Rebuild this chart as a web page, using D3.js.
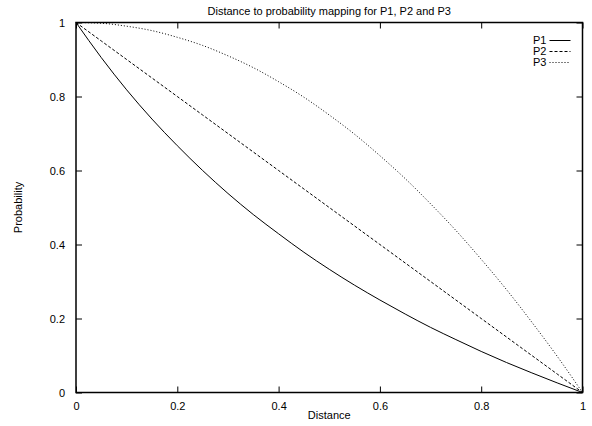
<!DOCTYPE html>
<html>
<head>
<meta charset="utf-8">
<script src="https://cdn.jsdelivr.net/npm/d3@7"></script>
<style>
  body { margin: 0; background: #fff; }
  text { font-family: "Liberation Sans", Arial, sans-serif; font-size: 11px; fill: #000; }
</style>
</head>
<body>
<div id="chart"></div>
<script>
// distances sampled along the x axis
var distance = [0, 0.05, 0.1, 0.15, 0.2, 0.25, 0.3, 0.35, 0.4, 0.45, 0.5,
  0.55, 0.6, 0.65, 0.7, 0.75, 0.8, 0.85, 0.9, 0.95, 1];
// probabilities
var p1 = [1, 0.905, 0.818, 0.739, 0.667, 0.6, 0.538, 0.481, 0.429, 0.379, 0.333,
  0.29, 0.25, 0.212, 0.176, 0.143, 0.111, 0.081, 0.053, 0.026, 0];
var p2 = [1, 0.95, 0.9, 0.85, 0.8, 0.75, 0.7, 0.65, 0.6, 0.55, 0.5,
  0.45, 0.4, 0.35, 0.3, 0.25, 0.2, 0.15, 0.1, 0.05, 0];
var p3 = [1, 0.998, 0.99, 0.978, 0.96, 0.938, 0.91, 0.878, 0.84, 0.798, 0.75,
  0.698, 0.64, 0.578, 0.51, 0.438, 0.36, 0.278, 0.19, 0.098, 0];
var seriesNames = ['P1', 'P2', 'P3'];
var xTicks = [0, 0.2, 0.4, 0.6, 0.8, 1];
var yTicks = [0, 0.2, 0.4, 0.6, 0.8, 1];

var width = 592, height = 426;
var margin = { top: 22.5, right: 9.5, bottom: 33.5, left: 76 };
var w = width - margin.left - margin.right;
var h = height - margin.top - margin.bottom;

var svg = d3.select('#chart').append('svg')
  .attr('width', width)
  .attr('height', height);
var g = svg.append('g')
  .attr('transform', 'translate(' + margin.left + ',' + margin.top + ')');

var xScale = d3.scaleLinear().domain([0, 1]).range([0, w]);
var yScale = d3.scaleLinear().domain([0, 1]).range([h, 0]);

// ticks on all four sides, pointing inward (gnuplot style)
function styleAxis(sel) {
  sel.select('.domain').remove();
  sel.selectAll('line').attr('stroke', '#000');
}
g.append('g')
  .attr('transform', 'translate(0,' + h + ')')
  .call(d3.axisBottom(xScale).tickValues(xTicks).tickSize(-6).tickPadding(10).tickFormat(d3.format('')))
  .call(styleAxis)
  .selectAll('text').style('font-size', null).attr('font-family', null);
g.append('g')
  .call(d3.axisTop(xScale).tickValues(xTicks).tickSize(-6).tickFormat(''))
  .call(styleAxis);
g.append('g')
  .call(d3.axisLeft(yScale).tickValues(yTicks).tickSize(-6).tickPadding(11).tickFormat(d3.format('')))
  .call(styleAxis)
  .selectAll('text').attr('font-family', null).attr('font-size', null);
g.append('g')
  .attr('transform', 'translate(' + w + ',0)')
  .call(d3.axisRight(yScale).tickValues(yTicks).tickSize(-6).tickFormat(''))
  .call(styleAxis);
g.selectAll('.tick text').attr('fill', '#000');
g.selectAll('g').attr('font-size', null).attr('font-family', null);

// border
g.append('rect')
  .attr('width', w)
  .attr('height', h)
  .attr('fill', 'none')
  .attr('stroke', '#000')
  .attr('stroke-width', 1.5);

// curves
var series = [
  { name: 'P1', values: p1, dash: null },
  { name: 'P2', values: p2, dash: '3,2' },
  { name: 'P3', values: p3, dash: '1,2' }
];
var line = d3.line()
  .x(d => xScale(d[0]))
  .y(d => yScale(d[1]))
  .curve(d3.curveMonotoneX);
g.selectAll('.curve')
  .data(series)
  .enter()
  .append('path')
  .attr('class', 'curve')
  .attr('d', s => line(distance.map((d, i) => [d, s.values[i]])))
  .attr('fill', 'none')
  .attr('stroke', '#000')
  .attr('stroke-width', 1)
  .attr('stroke-dasharray', s => s.dash);

// legend
var legend = g.selectAll('.key')
  .data(series)
  .enter()
  .append('g')
  .attr('class', 'key')
  .attr('transform', (s, i) => 'translate(' + (w - 33) + ',' + (18 + i * 11) + ')');
legend.append('text')
  .attr('x', -3)
  .attr('dy', '0.35em')
  .style('text-anchor', 'end')
  .text(s => s.name);
legend.append('line')
  .attr('x1', 0)
  .attr('x2', 21)
  .attr('stroke', '#000')
  .attr('stroke-dasharray', s => s.dash);

// title and axis labels
svg.append('text')
  .attr('x', margin.left + w / 2)
  .attr('y', 15)
  .style('text-anchor', 'middle')
  .text('Distance to probability mapping for P1, P2 and P3');
svg.append('text')
  .attr('x', margin.left + w / 2)
  .attr('y', 419)
  .style('text-anchor', 'middle')
  .text('Distance');
svg.append('text')
  .attr('transform', 'translate(22,' + (margin.top + h / 2) + ') rotate(-90)')
  .style('text-anchor', 'middle')
  .text('Probability');
</script>
</body>
</html>
